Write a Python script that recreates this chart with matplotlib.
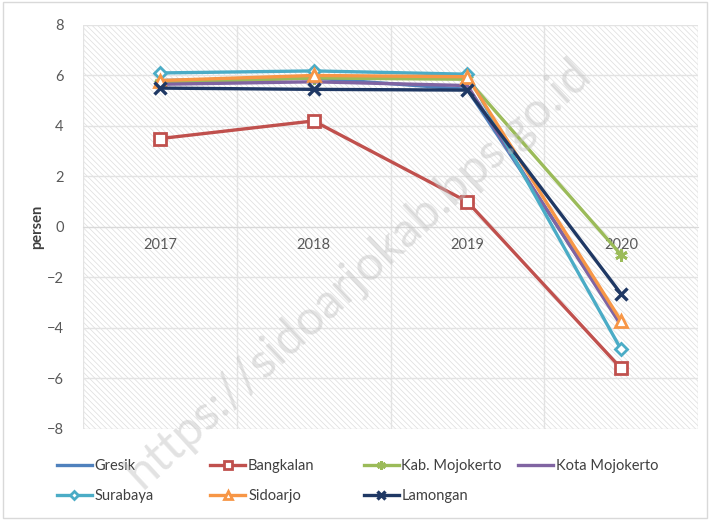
import matplotlib
matplotlib.use("Agg")
import matplotlib.pyplot as plt
from matplotlib.patches import Rectangle

plt.rcParams['font.family'] = ['Lato', 'DejaVu Sans']
plt.rcParams['hatch.linewidth'] = 0.5

years = ["2017", "2018", "2019", "2020"]
gresik = [5.8, 5.9, 5.45, -3.8]
bangkalan = [3.5, 4.2, 1.0, -5.6]
kab_mojokerto = [5.7, 5.9, 5.85, -1.1]
kota_mojokerto = [5.65, 5.75, 5.6, -3.9]
surabaya = [6.1, 6.18, 6.05, -4.85]
sidoarjo = [5.8, 6.0, 5.95, -3.72]
lamongan = [5.5, 5.45, 5.42, -2.65]

series = [
    ("Gresik", gresik, "#4F81BD", None),
    ("Bangkalan", bangkalan, "#C0504D", "s"),
    ("Kab. Mojokerto", kab_mojokerto, "#9BBB59", "asterisk"),
    ("Kota Mojokerto", kota_mojokerto, "#8064A2", None),
    ("Surabaya", surabaya, "#4BACC6", "D"),
    ("Sidoarjo", sidoarjo, "#F79646", "^"),
    ("Lamongan", lamongan, "#1F3864", "x"),
]

fig = plt.figure(figsize=(7.1, 5.2), dpi=100)
ax = fig.add_axes([0.117, 0.175, 0.866, 0.777])
ax.set_facecolor("white")
ax.add_patch(Rectangle((0, 0), 1, 1, transform=ax.transAxes, facecolor="none",
                       edgecolor="#DDDDDD", hatch="\\\\\\\\\\\\", linewidth=0, zorder=0))

x = list(range(len(years)))
handles = {}
for name, vals, col, mk in series:
    kw = dict(color=col, linewidth=2.4, label=name, zorder=3)
    if mk == "asterisk":
        kw.update(marker=(6, 2, 0), markersize=9, markeredgewidth=2, markeredgecolor=col)
    elif mk == "x":
        kw.update(marker="x", markersize=9, markeredgewidth=2.4, markeredgecolor=col)
    elif mk is not None:
        ms = {"s": 8.5, "D": 6.5, "^": 9}[mk]
        kw.update(marker=mk, markersize=ms, markerfacecolor="white",
                  markeredgecolor=col, markeredgewidth=2)
    handles[name] = ax.plot(x, vals, **kw)[0]

ax.set_xlim(-0.5, 3.5)
ax.set_ylim(-8, 8)
ax.set_yticks(range(-8, 9, 2))
ax.set_xticks(x)
ax.set_xticklabels(years)
ax.set_xticks([-0.5, 0.5, 1.5, 2.5, 3.5], minor=True)
ax.grid(True, axis="y", color="#E3E3E3", linewidth=1, zorder=1)
ax.grid(True, axis="x", which="minor", color="#E3E3E3", linewidth=1, zorder=1)
ax.set_axisbelow(True)
for s in ["top", "right", "left"]:
    ax.spines[s].set_visible(False)
ax.spines["bottom"].set_position(("data", 0))
ax.spines["bottom"].set_color("#D9D9D9")
ax.tick_params(axis="both", which="both", length=0, colors="#595959", labelsize=10.5)
ax.tick_params(axis="x", pad=8)
ax.tick_params(axis="y", pad=14)
ax.set_ylabel("persen", fontsize=10.5, fontweight="bold", color="#404040", labelpad=2)

# legend laid out in fixed-width columns, row-major like the original
columns = [["Gresik", "Surabaya"], ["Bangkalan", "Sidoarjo"],
           ["Kab. Mojokerto", "Lamongan"], ["Kota Mojokerto"]]
col_x = [0.080, 0.296, 0.512, 0.730]
for cx, names in zip(col_x, columns):
    fig.legend([handles[n] for n in names], names, loc="upper left",
               bbox_to_anchor=(cx, 0.117), ncol=1, frameon=False,
               fontsize=10.5, handlelength=2.4, handletextpad=0.2,
               borderpad=0, borderaxespad=0, labelspacing=1.1,
               labelcolor="#404040", markerscale=0.7)

fig.add_artist(Rectangle((0.004, 0.004), 0.992, 0.992, transform=fig.transFigure,
                         fill=False, edgecolor="#D9D9D9", linewidth=1))

fig.text(0.505, 0.475, "https://sidoarjokab.bps.go.id", fontsize=35,
         color="#C0C0C0", alpha=0.45, rotation=42.5, ha="center", va="center", zorder=10)

fig.savefig("out.png", dpi=100)
